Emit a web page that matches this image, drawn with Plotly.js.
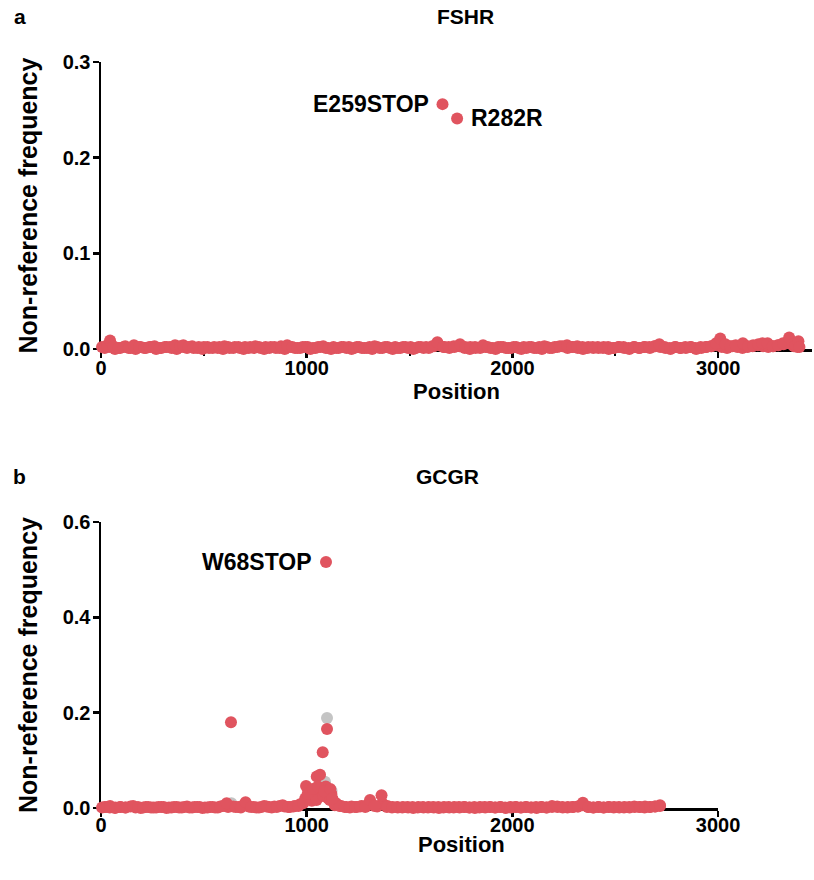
<!DOCTYPE html>
<html>
<head>
<meta charset="utf-8">
<script src="https://cdn.plot.ly/plotly-3.0.1.min.js"></script>
<style>html,body{margin:0;padding:0;background:#fff;}#chart{width:814px;height:880px;}</style>
</head>
<body>
<div id="chart"></div>
<script>
// ---------- FSHR (panel a) ----------
const fshrPos = [5,30,44,60,85,110,135,160,185,210,235,260,285,310,335,360,385,400,425,450,475,500,525,550,575,600,625,650,675,700,725,750,775,800,825,850,875,905,930,955,980,1005,1030,1055,1080,1105,1130,1155,1180,1205,1230,1255,1280,1305,1330,1355,1380,1405,1430,1455,1480,1505,1530,1555,1580,1610,1635,1665,1690,1715,1745,1770,1795,1820,1857,1880,1905,1930,1955,1980,2005,2030,2055,2080,2105,2130,2155,2180,2205,2230,2265,2290,2315,2340,2365,2390,2415,2440,2465,2490,2515,2540,2565,2590,2615,2640,2665,2690,2714,2740,2765,2790,2815,2840,2865,2890,2915,2940,2965,2990,3010,3035,3060,3085,3120,3145,3170,3195,3215,3240,3265,3290,3315,3345,3360,3375,3390,3395];
const fshrFreq = [0.002,0.004,0.009,0.003,0.001,0.002,0.001,0.004,0.002,0.001,0.002,0.003,0.001,0.002,0.002,0.004,0.003,0.004,0.002,0.001,0.002,0.002,0.001,0.002,0.002,0.003,0.001,0.002,0.001,0.002,0.002,0.003,0.001,0.002,0.002,0.001,0.003,0.004,0.002,0.001,0.002,0.002,0.001,0.002,0.003,0.001,0.002,0.001,0.002,0.002,0.001,0.002,0.001,0.002,0.003,0.001,0.002,0.001,0.002,0.001,0.002,0.002,0.001,0.002,0.002,0.003,0.007,0.002,0.002,0.003,0.005,0.002,0.002,0.001,0.004,0.002,0.001,0.002,0.002,0.001,0.002,0.001,0.002,0.002,0.001,0.002,0.003,0.001,0.002,0.003,0.004,0.002,0.003,0.002,0.001,0.002,0.002,0.001,0.002,0.001,0.002,0.002,0.001,0.002,0.001,0.002,0.002,0.003,0.005,0.002,0.001,0.002,0.001,0.002,0.002,0.001,0.002,0.002,0.003,0.006,0.011,0.005,0.003,0.004,0.006,0.003,0.004,0.005,0.006,0.006,0.003,0.004,0.006,0.012,0.005,0.004,0.008,0.002];
const fshrPos2 = [18,43,68,93,118,143,168,193,218,243,268,293,318,343,368,393,418,443,468,493,518,543,568,593,618,643,668,693,718,743,768,793,818,843,868,893,918,943,968,993,1018,1043,1068,1093,1118,1143,1168,1193,1218,1243,1268,1293,1318,1343,1368,1393,1418,1443,1468,1493,1518,1543,1568,1593,1618,1643,1668,1693,1718,1743,1768,1793,1818,1843,1868,1893,1918,1943,1968,1993,2018,2043,2068,2093,2118,2143,2168,2193,2218,2243,2268,2293,2318,2343,2368,2393,2418,2443,2468,2493,2518,2543,2568,2593,2618,2643,2668,2693,2718,2743,2768,2793,2818,2843,2868,2893,2918,2943,2968,2993,3018,3043,3068,3093,3118,3143,3168,3193,3218,3243,3268,3293,3318,3343,3368,3385];
const fshrFreq2 = [0.001,0.002,0.000,0.001,0.003,0.001,0.000,0.002,0.001,0.002,
  0.000,0.001,0.002,0.001,0.000,0.002,0.001,0.003,0.001,0.000,
  0.002,0.001,0.001,0.000,0.002,0.001,0.002,0.000,0.001,0.001,
  0.002,0.000,0.001,0.002,0.001,0.000,0.002,0.001,0.001,0.002,
  0.000,0.001,0.002,0.001,0.000,0.001,0.002,0.001,0.000,0.002,
  0.001,0.001,0.000,0.002,0.001,0.002,0.000,0.001,0.002,0.001,
  0.000,0.002,0.001,0.001,0.003,0.004,0.002,0.001,0.002,0.003,
  0.001,0.000,0.002,0.001,0.002,0.001,0.000,0.002,0.001,0.001,
  0.002,0.000,0.001,0.002,0.001,0.000,0.002,0.001,0.002,0.003,
  0.001,0.002,0.001,0.000,0.002,0.001,0.001,0.002,0.000,0.001,
  0.002,0.001,0.000,0.002,0.001,0.002,0.001,0.003,0.002,0.001,
  0.000,0.002,0.001,0.001,0.002,0.000,0.001,0.002,0.003,0.004,
  0.002,0.001,0.003,0.002,0.001,0.002,0.003,0.004,0.003,0.002,
  0.003,0.004,0.005,0.006,0.003,0.002];
const fshrHitPos = [1660, 1731];
const fshrHitFreq = [0.256, 0.241];
const fshrHitLabels = ["E259STOP", "R282R"];

// ---------- GCGR (panel b) ----------
const gcgrPos = [5,25,44,70,95,120,156,180,205,230,255,280,305,330,355,380,405,430,455,480,505,530,555,580,611,632,655,680,703,730,755,780,805,830,855,883,910,935,960,983,997,1010,1025,1040,1048,1049,1065,1065,1078,1080,1080,1099,1105,1113,1120,1137,1160,1185,1210,1235,1260,1285,1308,1330,1364,1390,1415,1440,1465,1490,1515,1540,1565,1590,1615,1640,1665,1690,1715,1740,1765,1790,1815,1840,1865,1890,1915,1940,1965,1990,2015,2040,2065,2090,2115,2140,2165,2193,2220,2245,2270,2295,2320,2343,2370,2395,2420,2445,2470,2495,2520,2545,2570,2595,2620,2645,2670,2695,2718,
  1005,1030,1055,1085,1115,1125];
const gcgrFreq = [0.001,0.002,0.004,0.001,0.002,0.001,0.004,0.002,0.001,0.002,0.001,0.002,0.002,0.001,0.002,0.001,0.002,0.001,0.002,0.002,0.001,0.002,0.001,0.003,0.010,0.180,0.002,0.001,0.012,0.002,0.001,0.002,0.003,0.001,0.002,0.006,0.002,0.003,0.004,0.010,0.046,0.020,0.015,0.025,0.017,0.066,0.070,0.038,0.117,0.031,0.025,0.166,0.020,0.017,0.030,0.006,0.004,0.002,0.001,0.002,0.003,0.002,0.017,0.004,0.027,0.002,0.001,0.002,0.001,0.002,0.002,0.001,0.002,0.001,0.002,0.002,0.001,0.002,0.001,0.002,0.002,0.001,0.002,0.001,0.002,0.002,0.001,0.002,0.001,0.002,0.002,0.001,0.002,0.001,0.002,0.002,0.001,0.004,0.002,0.001,0.002,0.002,0.003,0.011,0.002,0.001,0.002,0.001,0.002,0.002,0.001,0.002,0.001,0.002,0.002,0.003,0.002,0.003,0.006,
  0.030,0.040,0.045,0.035,0.040,0.020];
const gcgrPos2 = [18,43,68,93,118,143,168,193,218,243,268,293,318,343,368,393,418,443,468,493,518,543,568,593,618,643,668,693,718,743,768,793,818,843,868,893,918,943,968,993,1018,1043,1068,1093,1118,1143,1168,1193,1218,1243,1268,1293,1318,1343,1368,1393,1418,1443,1468,1493,1518,1543,1568,1593,1618,1643,1668,1693,1718,1743,1768,1793,1818,1843,1868,1893,1918,1943,1968,1993,2018,2043,2068,2093,2118,2143,2168,2193,2218,2243,2268,2293,2318,2343,2368,2393,2418,2443,2468,2493,2518,2543,2568,2593,2618,2643,2668,2693,2718];
const gcgrFreq2 = [0.002,0.001,0.000,0.002,0.001,0.003,0.001,0.000,0.002,0.001,
  0.001,0.002,0.000,0.001,0.002,0.001,0.003,0.001,0.002,0.000,
  0.001,0.002,0.001,0.004,0.002,0.003,0.002,0.006,0.003,0.002,
  0.001,0.004,0.002,0.003,0.004,0.003,0.002,0.004,0.008,0.020,
  0.030,0.035,0.040,0.045,0.025,0.010,0.004,0.002,0.003,0.002,
  0.004,0.006,0.008,0.003,0.010,0.004,0.002,0.001,0.002,0.001,
  0.000,0.002,0.001,0.002,0.001,0.000,0.002,0.001,0.002,0.001,
  0.002,0.001,0.000,0.002,0.001,0.002,0.001,0.002,0.000,0.001,
  0.002,0.001,0.002,0.001,0.000,0.002,0.001,0.002,0.003,0.002,
  0.001,0.002,0.003,0.006,0.002,0.001,0.002,0.001,0.002,0.001,
  0.002,0.001,0.002,0.003,0.002,0.001,0.002,0.003,0.004];
const gcgrGreyPos = [634, 1075, 1089, 1099, 1099, 1110, 1121];
const gcgrGreyFreq = [0.010, 0.045, 0.055, 0.189, 0.038, 0.028, 0.036];
const gcgrHitPos = [1094];
const gcgrHitFreq = [0.516];
const gcgrHitLabels = ["W68STOP"];

const xTicksA = [0, 1000, 2000, 3000];
const xMinorA = [500, 1500, 2500];
const yTicksA = [0, 0.1, 0.2, 0.3];
const xTicksB = [0, 1000, 2000, 3000];
const yTicksB = [0, 0.2, 0.4, 0.6];

const RED = '#e0545f';
const GREY = '#c4c4c4';
const FONT = 'Liberation Sans, Arial, Helvetica, sans-serif';
const f = (s) => ({family: FONT, size: s, color: '#000', weight: 'bold'});
const mk = (c) => ({color: c, size: 12, line: {width: 0}});

const traces = [
  {x: fshrPos2, y: fshrFreq2, type: 'scatter', mode: 'markers', marker: mk(RED), cliponaxis: false, xaxis: 'x', yaxis: 'y'},
  {x: fshrPos, y: fshrFreq, type: 'scatter', mode: 'markers', marker: mk(RED), cliponaxis: false, xaxis: 'x', yaxis: 'y'},
  {x: fshrHitPos, y: fshrHitFreq, type: 'scatter', mode: 'markers', marker: mk(RED), cliponaxis: false, xaxis: 'x', yaxis: 'y', text: fshrHitLabels},
  {x: gcgrGreyPos, y: gcgrGreyFreq, type: 'scatter', mode: 'markers', marker: mk(GREY), cliponaxis: false, xaxis: 'x2', yaxis: 'y2'},
  {x: gcgrPos2, y: gcgrFreq2, type: 'scatter', mode: 'markers', marker: mk(RED), cliponaxis: false, xaxis: 'x2', yaxis: 'y2'},
  {x: gcgrPos, y: gcgrFreq, type: 'scatter', mode: 'markers', marker: mk(RED), cliponaxis: false, xaxis: 'x2', yaxis: 'y2'},
  {x: gcgrHitPos, y: gcgrHitFreq, type: 'scatter', mode: 'markers', marker: mk(RED), cliponaxis: false, xaxis: 'x2', yaxis: 'y2', text: gcgrHitLabels}
];

const axisCommon = {
  showline: true, linecolor: '#000', linewidth: 2.5,
  ticks: 'outside', ticklen: 6, tickwidth: 2.5, tickcolor: '#000',
  showgrid: false, zeroline: false, layer: 'below traces',
  tickfont: f(20), fixedrange: true
};

const annotations = [
  {text: 'FSHR', xref: 'paper', yref: 'paper', x: 0.513, y: 0.981, xanchor: 'center', yanchor: 'middle', showarrow: false, font: f(21)},
  {text: 'GCGR', xref: 'paper', yref: 'paper', x: 0.488, y: 0.459, xanchor: 'center', yanchor: 'middle', showarrow: false, font: f(21)},
  {text: 'a', xref: 'paper', yref: 'paper', x: -0.114, y: 0.981, xanchor: 'center', yanchor: 'middle', showarrow: false, font: f(21)},
  {text: 'b', xref: 'paper', yref: 'paper', x: -0.114, y: 0.459, xanchor: 'center', yanchor: 'middle', showarrow: false, font: f(21)},
  {text: 'Position', xref: 'paper', yref: 'paper', x: 0.507, y: 0.040, xanchor: 'center', yanchor: 'middle', showarrow: false, font: f(22)}
];
fshrHitLabels.forEach((t, i) => annotations.push({
  text: t, xref: 'x', yref: 'y', x: fshrHitPos[i], y: fshrHitFreq[i], showarrow: false,
  xanchor: i === 0 ? 'right' : 'left', xshift: i === 0 ? -12 : 12, yanchor: 'middle',
  font: f(23)
}));
gcgrHitLabels.forEach((t, i) => annotations.push({
  text: t, xref: 'x2', yref: 'y2', x: gcgrHitPos[i], y: gcgrHitFreq[i], showarrow: false,
  xanchor: 'right', xshift: -12, yanchor: 'middle',
  font: f(23)
}));

const layout = {
  width: 814, height: 880,
  margin: {l: 101, r: 2, t: 0, b: 0},
  paper_bgcolor: '#fff', plot_bgcolor: '#fff',
  showlegend: false,
  font: {family: FONT, color: '#000'},
  xaxis: Object.assign({}, axisCommon, {
    domain: [0, 1], range: [0, 3456], anchor: 'y',
    tickvals: xTicksA, ticktext: xTicksA.map(String), ticklabelstandoff: -7,
    minor: {tickvals: xMinorA, ticks: 'outside', ticklen: 4, tickwidth: 2, tickcolor: '#000'},
    title: {text: 'Position', standoff: 0, font: f(22)}
  }),
  yaxis: Object.assign({}, axisCommon, {
    domain: [0.6034, 0.9295], range: [0, 0.3], anchor: 'x',
    tickvals: yTicksA, ticktext: yTicksA.map(v => v.toFixed(1)), ticklabelstandoff: -2,
    title: {text: 'Non-reference frequency', standoff: 18, font: f(25)}
  }),
  xaxis2: Object.assign({}, axisCommon, {
    domain: [0, 0.8678], range: [0, 3000], anchor: 'y2',
    tickvals: xTicksB, ticktext: xTicksB.map(String), ticklabelstandoff: -9
  }),
  yaxis2: Object.assign({}, axisCommon, {
    domain: [0.0818, 0.4068], range: [0, 0.6], anchor: 'x2',
    tickvals: yTicksB, ticktext: yTicksB.map(v => v.toFixed(1)), ticklabelstandoff: -2,
    title: {text: 'Non-reference frequency', standoff: 18, font: f(25)}
  }),
  annotations: annotations
};

Plotly.newPlot('chart', traces, layout, {staticPlot: true, displayModeBar: false});
</script>
</body>
</html>
